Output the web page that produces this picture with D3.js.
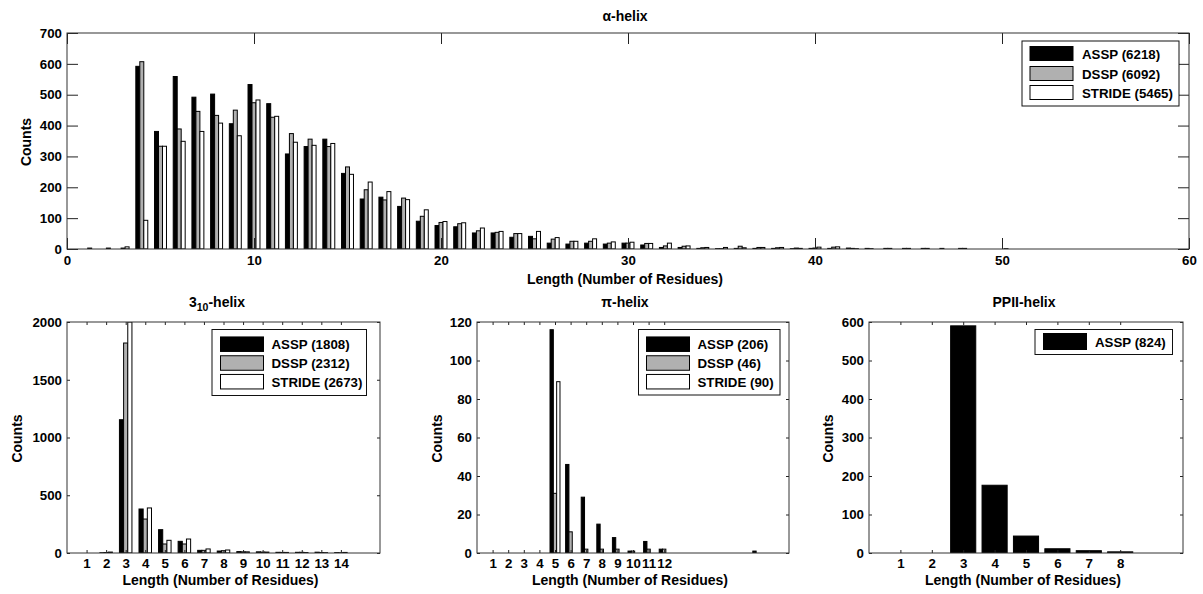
<!DOCTYPE html>
<html>
<head>
<meta charset="utf-8">
<script src="https://cdn.jsdelivr.net/npm/d3@7"></script>
<style>
  body { margin: 0; background: #fff; }
  svg text { font-family: "Liberation Sans", Arial, Helvetica, sans-serif; font-weight: bold; font-size: 14px; fill: #000; }
  svg text.small { font-size: 13.3px; }
</style>
</head>
<body>
<svg id="fig" width="1203" height="594"></svg>
<script>
// ---------- data ----------
const seriesFills = ["#000000", "#b0b0b0", "#ffffff"];

// alpha-helix segment length distribution
const alphaLengths = [1,2,3,4,5,6,7,8,9,10,11,12,13,14,15,16,17,18,19,20,21,22,23,24,25,
                      26,27,28,29,30,31,32,33,34,35,36,37,38,39,40,41,42,43,44,45,46,47,48,49,50];
const alphaASSP   = [0,0,0,592,381,559,492,502,406,533,471,308,332,356,245,162,168,138,90,76,72,52,52,38,41,
                     19,16,19,16,19,13,5,5,2,1,2,2,2,1,2,2,3,2,2,2,2,2,2,0,0];
const alphaDSSP   = [0,0,3,607,333,389,446,433,450,474,427,374,356,332,266,192,159,165,106,86,82,59,54,50,33,
                     32,25,25,19,19,18,10,9,4,1,9,5,4,3,3,6,2,1,2,2,2,0,2,0,0];
const alphaSTRIDE = [3,3,7,93,333,349,381,408,367,483,430,346,336,342,242,217,186,160,127,89,85,68,57,50,57,
                     37,25,33,23,22,18,19,10,5,5,4,5,5,2,6,7,1,0,0,0,0,0,0,0,1];
const alphaLegend = ["ASSP (6218)", "DSSP (6092)", "STRIDE (5465)"];
const alphaXTicks = [0,10,20,30,40,50,60];
const alphaYTicks = [0,100,200,300,400,500,600,700];

// 3-10 helix
const h310Lengths = [1,2,3,4,5,6,7,8,9,10,11,12,13,14];
const h310ASSP    = [0,2,1154,381,202,101,23,17,12,10,6,6,7,3];
const h310DSSP    = [0,4,1818,294,78,78,23,20,10,8,5,6,4,2];
const h310STRIDE  = [0,8,2000,390,110,121,35,26,10,8,5,4,3,5];
const h310Legend  = ["ASSP (1808)", "DSSP (2312)", "STRIDE (2673)"];
const h310XTicks  = [1,2,3,4,5,6,7,8,9,10,11,12,13,14];
const h310YTicks  = [0,500,1000,1500,2000];

// pi helix
const piLengths = [1,2,3,4,5,6,7,8,9,10,11,12,13,14,15,16,17,18];
const piASSP    = [0,0,0,0,116,46,29,15,8,1,6,2,0,0,0,0,0,1];
const piDSSP    = [0,0,0,0,31,11,2,2,2,1,2,2,0,0,0,0,0,0];
const piSTRIDE  = [0,0,0,0,89,0,0,0,0,0,0,0,0,0,0,0,0,0];
const piLegend  = ["ASSP (206)", "DSSP (46)", "STRIDE (90)"];
const piXTicks  = [1,2,3,4,5,6,7,8,9,10,11,12];
const piYTicks  = [0,20,40,60,80,100,120];

// PPII helix
const ppiiLengths = [1,2,3,4,5,6,7,8];
const ppiiASSP    = [0,0,590,176,44,11,6,3];
const ppiiLegend  = ["ASSP (824)"];
const ppiiXTicks  = [1,2,3,4,5,6,7,8];
const ppiiYTicks  = [0,100,200,300,400,500,600];

// ---------- drawing ----------
const svg = d3.select("#fig");
svg.append("rect").attr("width", 1203).attr("height", 594).attr("fill", "#fff");
let clipId = 0;

function drawPanel(p) {
  const g = svg.append("g");
  const x = d3.scaleLinear().domain(p.xDomain).range([p.left, p.right]);
  const y = d3.scaleLinear().domain(p.yDomain).range([p.bottom, p.top]);

  const cid = "clip" + (clipId++);
  g.append("clipPath").attr("id", cid)
    .append("rect").attr("x", p.left).attr("y", p.top)
    .attr("width", p.right - p.left).attr("height", p.bottom - p.top);

  // grouped bars, one offset per series
  const n = p.series.length;
  const bars = g.append("g").attr("clip-path", `url(#${cid})`);
  p.series.forEach((vals, si) => {
    const off = (si - (n - 1) / 2) * p.barWidth;
    bars.selectAll(null)
      .data(p.lengths.map((L, i) => ({ L, v: vals[i] })).filter(d => d.v > 0))
      .join("rect")
      .attr("x", d => x(d.L + off - p.barWidth / 2))
      .attr("width", x(p.barWidth) - x(0))
      .attr("y", d => y(d.v))
      .attr("height", d => y(0) - y(d.v))
      .attr("fill", seriesFills[si])
      .attr("stroke", "#000")
      .attr("stroke-width", 1);
  });

  // axes with inward ticks on all four sides
  const tl = p.tickLen;
  const ax = (sel) => { sel.select(".domain").remove(); sel.attr("color", "#222"); };
  g.append("g").attr("transform", `translate(0,${p.bottom})`)
    .call(d3.axisBottom(x).tickValues(p.xTicks).tickSize(-tl).tickPadding(p.xPad).tickFormat(d3.format("d")))
    .call(ax);
  g.append("g").attr("transform", `translate(0,${p.top})`)
    .call(d3.axisTop(x).tickValues(p.xTicks).tickSize(-tl).tickFormat(""))
    .call(ax);
  g.append("g").attr("transform", `translate(${p.left},0)`)
    .call(d3.axisLeft(y).tickValues(p.yTicks).tickSize(-tl).tickPadding(5).tickFormat(d3.format("d")))
    .call(ax);
  g.append("g").attr("transform", `translate(${p.right},0)`)
    .call(d3.axisRight(y).tickValues(p.yTicks).tickSize(-tl).tickFormat(""))
    .call(ax);
  g.selectAll(".tick text").attr("fill", "#000").attr("class", "small");

  g.append("rect")
    .attr("x", p.left).attr("y", p.top)
    .attr("width", p.right - p.left).attr("height", p.bottom - p.top)
    .attr("fill", "none").attr("stroke", "#333").attr("stroke-width", 1);

  // title
  const t = g.append("text").attr("x", p.titleX).attr("y", p.titleY).attr("text-anchor", "middle");
  p.title(t);

  // axis labels
  g.append("text").attr("x", (p.left + p.right) / 2 - 3).attr("y", p.xLabelY)
    .attr("text-anchor", "middle").text("Length (Number of Residues)");
  g.append("text").attr("transform", `translate(${p.yLabelX},${(p.top + p.bottom) / 2 + 1}) rotate(-90)`)
    .attr("text-anchor", "middle").text("Counts");

  // legend
  const lg = p.legend;
  g.append("rect").attr("x", lg.x).attr("y", lg.y).attr("width", lg.w).attr("height", lg.h)
    .attr("fill", "#fff").attr("stroke", "#111").attr("stroke-width", 1);
  p.legendLabels.forEach((lab, i) => {
    const cy = lg.rows[i];
    g.append("rect").attr("x", lg.sx).attr("y", cy - lg.sh / 2).attr("width", lg.sw).attr("height", lg.sh)
      .attr("fill", seriesFills[i]).attr("stroke", "#000").attr("stroke-width", 1);
    g.append("text").attr("class", "small").attr("x", lg.tx).attr("y", cy + 5).text(lab);
  });
}

// alpha-helix (top, full width)
drawPanel({
  left: 67, right: 1189, top: 33, bottom: 249,
  xDomain: [0, 60], yDomain: [0, 700],
  lengths: alphaLengths, series: [alphaASSP, alphaDSSP, alphaSTRIDE], barWidth: 0.213,
  xTicks: alphaXTicks, yTicks: alphaYTicks, tickLen: 11, xPad: 7,
  titleX: 625, titleY: 20.5,
  title: t => t.text("\u03b1-helix"),
  xLabelY: 284, yLabelX: 30.5,
  legendLabels: alphaLegend,
  legend: { x: 1022, y: 41, w: 157, h: 65, sx: 1030, sw: 43, sh: 14, tx: 1082, rows: [53.5, 73.5, 92.5] }
});

// 3-10 helix
drawPanel({
  left: 67, right: 380, top: 322, bottom: 553,
  xDomain: [0, 16], yDomain: [0, 2000],
  lengths: h310Lengths, series: [h310ASSP, h310DSSP, h310STRIDE], barWidth: 0.213,
  xTicks: h310XTicks, yTicks: h310YTicks, tickLen: 3, xPad: 5.5,
  titleX: 217, titleY: 307,
  title: t => {
    t.append("tspan").text("3");
    t.append("tspan").attr("dy", 3.5).style("font-size", "10.5px").text("10");
    t.append("tspan").attr("dy", -3.5).text("-helix");
  },
  xLabelY: 584.5, yLabelX: 21.5,
  legendLabels: h310Legend,
  legend: { x: 212, y: 329.5, w: 154.5, h: 66, sx: 220.5, sw: 43, sh: 14.5, tx: 271.5, rows: [344.2, 363, 381.7] }
});

// pi helix
drawPanel({
  left: 477, right: 789, top: 322, bottom: 553,
  xDomain: [0, 20], yDomain: [0, 120],
  lengths: piLengths, series: [piASSP, piDSSP, piSTRIDE], barWidth: 0.213,
  xTicks: piXTicks, yTicks: piYTicks, tickLen: 3, xPad: 5.5,
  titleX: 625, titleY: 307,
  title: t => t.text("\u03c0-helix"),
  xLabelY: 584.5, yLabelX: 441.5,
  legendLabels: piLegend,
  legend: { x: 638.5, y: 329.5, w: 141.5, h: 65.5, sx: 646.5, sw: 43, sh: 14.5, tx: 697.5, rows: [344.2, 363, 381.7] }
});

// PPII helix
drawPanel({
  left: 869, right: 1183, top: 322, bottom: 553,
  xDomain: [0, 10], yDomain: [0, 600],
  lengths: ppiiLengths, series: [ppiiASSP], barWidth: 0.8,
  xTicks: ppiiXTicks, yTicks: ppiiYTicks, tickLen: 3, xPad: 5.5,
  titleX: 1024, titleY: 307,
  title: t => t.text("PPII-helix"),
  xLabelY: 584.5, yLabelX: 833,
  legendLabels: ppiiLegend,
  legend: { x: 1035, y: 329.5, w: 137.5, h: 25, sx: 1043.5, sw: 43, sh: 16, tx: 1095, rows: [341.5] }
});
</script>
</body>
</html>
